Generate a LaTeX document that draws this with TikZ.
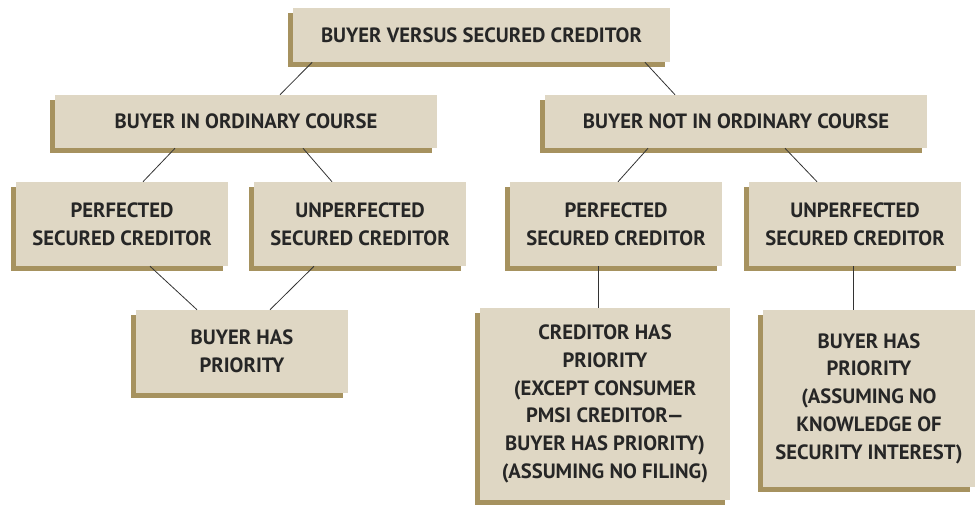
\documentclass[tikz,border=0pt]{standalone}
\usepackage{fontspec}
\setmainfont{PT Sans}
\usetikzlibrary{shadows}

\definecolor{boxface}{HTML}{DFD7C4}
\definecolor{boxshade}{HTML}{A6925F}
\definecolor{linkcol}{HTML}{333333}

\tikzset{
  box/.style={fill=boxface, inner sep=0pt, align=center,
    font=\bfseries\fontsize{15.5}{20.8}\selectfont, text=black!85,
    drop shadow={shadow xshift=-3.75pt, shadow yshift=-3.75pt, fill=boxshade, opacity=1}},
  link/.style={draw=linkcol, line width=0.6pt}
}

\begin{document}
\begin{tikzpicture}[x=0.75pt,y=-0.75pt]
\useasboundingbox (0,0) rectangle (979,510);

\node[box, minimum width=282.75pt, minimum height=40.5pt] (top) at (481.5,35) {BUYER VERSUS SECURED CREDITOR};
\node[box, minimum width=286.5pt, minimum height=39.75pt] (ord) at (246,121.5) {BUYER IN ORDINARY COURSE};
\node[box, minimum width=286.5pt, minimum height=39.75pt] (nord) at (736,121.5) {BUYER NOT IN ORDINARY COURSE};
\node[box, minimum width=159pt, minimum height=63pt] (pscl) at (122,224) {PERFECTED\\SECURED CREDITOR};
\node[box, minimum width=159pt, minimum height=63pt] (uscl) at (360,224) {UNPERFECTED\\SECURED CREDITOR};
\node[box, minimum width=159pt, minimum height=63pt] (pscr) at (616,224) {PERFECTED\\SECURED CREDITOR};
\node[box, minimum width=159pt, minimum height=63pt] (uscr) at (855,224) {UNPERFECTED\\SECURED CREDITOR};
\node[box, minimum width=159pt, minimum height=62.25pt] (bhpl) at (242,351.5) {BUYER HAS\\PRIORITY};
\node[box, minimum width=187.5pt, minimum height=144pt] (chp) at (605,404) {CREDITOR HAS\\PRIORITY\\(EXCEPT CONSUMER\\PMSI CREDITOR---\\BUYER HAS PRIORITY)\\(ASSUMING NO FILING)};
\node[box, minimum width=159pt, minimum height=132.75pt] (bhpr) at (869,398.5) {BUYER HAS\\PRIORITY\\(ASSUMING NO\\KNOWLEDGE OF\\SECURITY INTEREST)};

\draw[link] ([xshift=-127pt]top.south) -- ([xshift=25.5pt]ord.north);
\draw[link] ([xshift=122.6pt]top.south) -- ([xshift=-45.75pt]nord.north);
\draw[link] ([xshift=-53.25pt]ord.south) -- ([xshift=15.75pt]pscl.north);
\draw[link] ([xshift=42.75pt]ord.south) -- ([xshift=-21pt]uscl.north);
\draw[link] ([xshift=-66pt]nord.south) -- ([xshift=1.5pt]pscr.north);
\draw[link] ([xshift=36.75pt]nord.south) -- ([xshift=-28.5pt]uscr.north);
\draw[link] ([xshift=21pt]pscl.south) -- ([xshift=-33.75pt]bhpl.north);
\draw[link] ([xshift=-34.5pt]uscl.south) -- ([xshift=21pt]bhpl.north);
\draw[link] ([xshift=-13.5pt]pscr.south) -- ([xshift=-5.25pt]chp.north);
\draw[link] ([xshift=-1.5pt]uscr.south) -- ([xshift=-12pt]bhpr.north);
\end{tikzpicture}
\end{document}
